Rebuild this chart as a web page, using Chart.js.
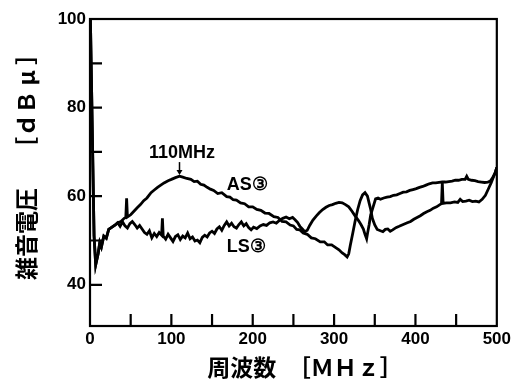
<!DOCTYPE html>
<html>
<head>
<meta charset="utf-8">
<script src="https://cdn.jsdelivr.net/npm/chart.js@4.4.1/dist/chart.umd.min.js"></script>
<style>
  html, body { margin: 0; padding: 0; background: #fff; }
</style>
</head>
<body>
<canvas id="myChart" width="514" height="381"></canvas>
<script>
// noise voltage [dBuV] vs frequency [MHz]
var as_freq = [0.5, 5, 7, 10, 12, 14, 17, 20, 23, 27, 31, 34, 38, 42, 44, 45, 46, 50, 54, 58,
    62, 66, 70, 75, 79, 83, 87, 91, 96, 100, 105, 110, 114, 119, 124, 128, 132, 136, 140, 144,
    148, 152, 157, 162, 168, 172, 176, 180, 185, 190, 195, 200, 205, 210, 215, 220, 226, 231, 236, 241,
    246, 250, 254, 258, 262, 267, 272, 277, 283, 288, 292, 297, 302, 306, 310, 313, 316, 318, 320, 323,
    326, 329, 332, 335, 338, 341, 343, 345, 347, 350, 353, 357, 360, 363, 366, 369, 372, 376, 380, 385,
    390, 394, 398, 402, 406, 410, 414, 418, 422, 426, 430, 432, 433, 434, 438, 443, 448, 452, 455, 458,
    462, 466, 470, 474, 478, 482, 486, 490, 493, 496, 498, 500];
var as_level = [100, 51, 44.5, 47, 49.5, 48.5, 51, 50.5, 52.5, 53, 53.5, 54, 54.3, 55, 55.2, 59.5, 55.3, 55.8, 56.6, 57.4,
    58.1, 59, 59.6, 60.8, 61.4, 62, 62.5, 63, 63.5, 63.8, 64.2, 64.5, 64.3, 64, 63.8, 63.3, 63.4, 62.7, 62.5, 62,
    61.6, 61.3, 60.6, 60.8, 59.9, 59.8, 59.2, 59.1, 58.5, 58.3, 57.6, 57.6, 57, 56.8, 56.2, 56.1, 55.4, 55.2, 54.3, 54.2,
    53.5, 53.3, 52.5, 52.4, 51.7, 51.4, 50.6, 50.4, 49.7, 49.7, 49, 49, 48.4, 47.9, 47.2, 46.8, 46.3, 47, 49, 51.7,
    54.5, 57, 59, 60.3, 60.8, 60, 58.5, 57, 55, 53.5, 52.5, 52.2, 52, 52.5, 52.6, 52.1, 52.4, 52.9, 53.2, 53.6,
    54, 54.3, 54.8, 55.2, 55.6, 56.1, 56.5, 56.8, 57.3, 57.6, 58.1, 58.3, 63, 58.4, 58.5, 58.5, 58.7, 58.6, 59.3, 58.8,
    58.9, 59.1, 58.8, 58.9, 58.7, 59.3, 60.2, 61.8, 63, 64.4, 65.3, 66.5];

var ls_freq = [0.5, 5, 7, 10, 12, 14, 17, 20, 23, 27, 31, 34, 37, 40, 43, 46, 49, 52, 55, 58,
    61, 64, 67, 70, 73, 76, 79, 82, 85, 88, 89, 90, 93, 96, 99, 102, 105, 108, 111, 114,
    117, 120, 123, 126, 129, 132, 135, 138, 141, 144, 147, 150, 153, 156, 159, 162, 165, 168, 171, 174,
    177, 180, 183, 186, 189, 192, 195, 198, 201, 205, 209, 213, 217, 221, 225, 229, 233, 237, 241, 245,
    249, 252, 255, 258, 261, 264, 267, 270, 274, 278, 282, 286, 290, 294, 298, 302, 306, 310, 314, 318,
    322, 326, 330, 333, 336, 338, 340, 341, 343, 345, 348, 351, 354, 357, 361, 365, 369, 373, 377, 381,
    385, 389, 393, 397, 401, 405, 409, 413, 417, 421, 425, 429, 433, 437, 441, 445, 449, 453, 457, 461,
    463, 465, 469, 473, 477, 481, 485, 489, 492, 495, 498, 500];
var ls_level = [100, 51, 44.5, 47, 49.5, 48.5, 51, 50.5, 52.5, 53, 53.5, 54, 53.2, 54.2, 53.3, 52.8, 53.8, 54.3, 53.6, 52.8,
    53.4, 52.6, 51.8, 51.4, 52.2, 50.6, 51.6, 50.9, 51.8, 51.2, 55, 51, 50.3, 51.4, 50.6, 49.8, 50.9, 51.3, 50.2, 51,
    50.6, 51.7, 50.4, 50.8, 49.9, 50.1, 49.5, 50.7, 51.2, 50.8, 51.7, 52.1, 51.6, 52.6, 53.1, 52.3, 53.4, 54.2, 53.3, 53.9,
    53.1, 52.8, 53.6, 54.2, 53.3, 53.8, 52.9, 52.4, 53, 52.7, 53.3, 53.6, 53.4, 54, 54.2, 53.9, 54.6, 55, 55.3, 54.9,
    55.2, 54.7, 54.1, 53.2, 52.6, 52, 52.3, 53.4, 54.6, 55.5, 56.3, 57, 57.5, 57.9, 58.1, 58.4, 58.6, 58.5, 58.1, 57.6,
    56.6, 55.5, 54.5, 53.6, 52.6, 51.4, 50.4, 51.5, 53.5, 55.8, 57.6, 59.4, 59.6, 59.3, 59.6, 59.8, 59.9, 60.2, 60.3, 60.6,
    60.9, 61, 61.3, 61.5, 61.7, 62, 62.2, 62.5, 62.8, 63, 63, 63.1, 63.2, 63.2, 63.3, 63.4, 63.6, 63.6, 63.8, 63.8,
    64.5, 63.8, 63.6, 63.5, 63.3, 63.2, 63.1, 63.2, 63.4, 64.2, 65.3, 66.5];

var x_tick_labels = [0, 100, 200, 300, 400, 500];
var y_tick_labels = [40, 60, 80, 100];
var x_minor_ticks = [50, 100, 150, 200, 250, 300, 350, 400, 450];
var y_minor_ticks = [40, 50, 60, 70, 80, 90];

// text notes inside the plot (anchor in data units)
var note_text = ['110MHz', 'AS③', 'LS③'];
var note_freq = [113, 168, 168];
var note_level = [69.8, 62.6, 48.6];

function toPoints(xs, ys) {
    return xs.map(function (x, i) { return { x: x, y: ys[i] }; });
}

var framePlugin = {
    id: 'frame',
    afterDatasetsDraw: function (chart) {
        var ctx = chart.ctx;
        var a = chart.chartArea;
        var xs = chart.scales.x;
        var ys = chart.scales.y;
        ctx.save();
        ctx.strokeStyle = '#000';
        ctx.lineWidth = 2.2;
        ctx.strokeRect(a.left, a.top, a.right - a.left, a.bottom - a.top);

        // tick marks point inward
        ctx.beginPath();
        x_minor_ticks.forEach(function (v) {
            var px = xs.getPixelForValue(v);
            ctx.moveTo(px, a.bottom);
            ctx.lineTo(px, a.bottom - 12);
        });
        y_minor_ticks.forEach(function (v) {
            var py = ys.getPixelForValue(v);
            ctx.moveTo(a.left, py);
            ctx.lineTo(a.left + 12, py);
        });
        ctx.stroke();

        // notes
        ctx.fillStyle = '#000';
        ctx.font = 'bold 18px "Liberation Sans", Arial, sans-serif';
        ctx.textBaseline = 'middle';
        note_text.forEach(function (t, i) {
            ctx.textAlign = i === 0 ? 'center' : 'left';
            ctx.fillText(t, xs.getPixelForValue(note_freq[i]), ys.getPixelForValue(note_level[i]));
        });

        // arrow to the 110 MHz peak
        var ax = xs.getPixelForValue(110);
        var ay0 = ys.getPixelForValue(67.7);
        var ay1 = ys.getPixelForValue(64.8);
        ctx.lineWidth = 1.5;
        ctx.beginPath();
        ctx.moveTo(ax, ay0);
        ctx.lineTo(ax, ay1 - 3);
        ctx.stroke();
        ctx.beginPath();
        ctx.moveTo(ax - 3, ay1 - 5);
        ctx.lineTo(ax + 3, ay1 - 5);
        ctx.lineTo(ax, ay1);
        ctx.closePath();
        ctx.fill();
        ctx.restore();
    }
};

var tickFont = { family: '"Liberation Sans", Arial, sans-serif', size: 17, weight: 'bold' };
var titleFont = { family: '"Noto Sans CJK JP", sans-serif', size: 23, weight: 'bold' };

var ctx = document.getElementById('myChart').getContext('2d');
var myChart = new Chart(ctx, {
    type: 'line',
    data: {
        datasets: [{
            label: 'AS3',
            data: toPoints(as_freq, as_level),
            borderColor: '#000',
            borderWidth: 2.8,
            pointRadius: 0,
            tension: 0,
            fill: false
        }, {
            label: 'LS3',
            data: toPoints(ls_freq, ls_level),
            borderColor: '#000',
            borderWidth: 2.8,
            pointRadius: 0,
            tension: 0,
            fill: false
        }]
    },
    options: {
        responsive: false,
        animation: false,
        events: [],
        layout: { padding: { left: 0, right: 16, top: 19, bottom: 0 } },
        plugins: {
            legend: { display: false },
            tooltip: { enabled: false }
        },
        scales: {
            x: {
                type: 'linear',
                min: 0,
                max: 500,
                grid: { display: false, drawTicks: false },
                border: { display: false },
                afterBuildTicks: function (s) {
                    s.ticks = x_tick_labels.map(function (v) { return { value: v }; });
                },
                afterFit: function (s) { s.height = 55; },
                ticks: { color: '#000', font: tickFont, padding: 3, maxRotation: 0 },
                title: {
                    display: true,
                    text: '　周波数　［ＭＨｚ］',
                    color: '#000',
                    font: titleFont,
                    padding: { top: 0, bottom: 0 }
                }
            },
            y: {
                min: 30.7,
                max: 100,
                grid: { display: false, drawTicks: false },
                border: { display: false },
                afterBuildTicks: function (s) {
                    s.ticks = y_tick_labels.map(function (v) { return { value: v }; });
                },
                afterFit: function (s) { s.width = 90; },
                ticks: { color: '#000', font: tickFont, padding: 4 },
                title: {
                    display: true,
                    text: '　雑音電圧　 ［ｄＢ μ ］',
                    color: '#000',
                    font: titleFont,
                    padding: { top: 12, bottom: 0 }
                }
            }
        }
    },
    plugins: [framePlugin]
});
</script>
</body>
</html>
